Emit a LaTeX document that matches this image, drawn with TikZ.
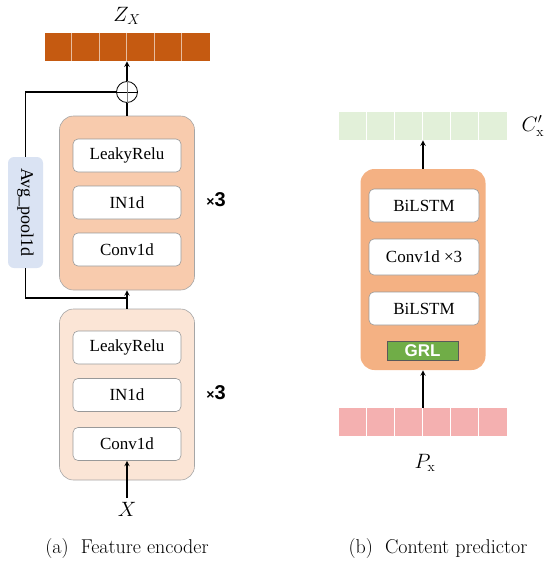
\documentclass[tikz,border=0pt]{standalone}
\usepackage{fontspec}
\newfontfamily\boxfont{Liberation Serif}
\newfontfamily\symfont{Liberation Sans}
\usetikzlibrary{positioning}
\definecolor{zxorange}{HTML}{C55A11}
\definecolor{encdark}{HTML}{F8CBAD}
\definecolor{enclight}{HTML}{FBE5D6}
\definecolor{predorange}{HTML}{F4B183}
\definecolor{poolblue}{HTML}{DAE3F3}
\definecolor{cxgreen}{HTML}{E2F0D9}
\definecolor{pxpink}{HTML}{F4B0B0}
\definecolor{grlgreen}{HTML}{70AD47}

\begin{document}
\begin{tikzpicture}[x=1pt,y=-1pt,thick,
    block/.style={draw=gray!70,line width=0.6pt,rounded corners=14pt,inner sep=0pt},
    layer node/.style={draw=gray!80,fill=white,line width=0.6pt,rounded corners=5pt,
        minimum width=108pt,minimum height=33pt,inner sep=0pt,
        font=\boxfont\fontsize{17}{19}\selectfont},
    bar/.style={minimum height=28pt,inner sep=0pt},
    times node/.style={font=\symfont\bfseries\fontsize{20}{20}\selectfont},
    math node/.style={font=\fontsize{20}{22}\selectfont},
    caption node/.style={font=\fontsize{20}{22}\selectfont},
    arrow/.style={->,line width=1.4pt,>=stealth}]

    \useasboundingbox (0,0) rectangle (550,562);

    % Feature encoder
    \node[bar,fill=zxorange,minimum width=165pt] (zx) at (127,47) {};
    \foreach \i in {1,...,5}
        \draw[white!60!zxorange,line width=0.8pt] ([xshift=\i*27.5pt]zx.north west) -- ([xshift=\i*27.5pt]zx.south west);
    \node[math node] (zxlab) at (127,16) {$Z_X$};
    \node[draw,circle,fill=white,line width=0.8pt,minimum size=21pt,inner sep=0pt] (plus) at (127,92) {};
    \draw[line width=0.8pt] (plus.west) -- (plus.east);
    \draw[line width=0.8pt,gray] (plus.north) -- (plus.south);

    \node[block,fill=encdark,minimum width=135pt,minimum height=174pt] (upblk) at (127,203) {};
    \node[layer node] (lrelu1) at (127,155.5) {LeakyRelu};
    \node[layer node] (in1) at (127,202.5) {IN1d};
    \node[layer node] (conv1) at (127,249.5) {Conv1d};
    \node[times node] (times1) at (216,200) {{\fontsize{14}{14}\selectfont×}3};

    \node[block,fill=enclight,minimum width=135pt,minimum height=171pt] (lowblk) at (127,394.5) {};
    \node[layer node] (lrelu2) at (127,347.5) {LeakyRelu};
    \node[layer node] (in2) at (127,395) {IN1d};
    \node[layer node] (conv2) at (127,444) {Conv1d};
    \node[times node] (times2) at (216,393) {{\fontsize{14}{14}\selectfont×}3};

    \node[draw=none,fill=poolblue,rounded corners=6pt,rotate=-90,minimum width=111pt,minimum height=35pt,
        inner sep=0pt,font=\boxfont\fontsize{18}{20}\selectfont] (avg) at (25.5,212.5) {Avg\_pool1d};
    \node[math node] (xlab) at (127,509) {$X$};
    \coordinate (jn) at (127,298);

    % Encoder connections
    \draw[arrow] (xlab) -- (conv2.south);
    \draw[line width=1.4pt] (lowblk.north) -- (jn);
    \draw[arrow] (jn) -- (upblk.south);
    \draw[line width=1.4pt] (avg) |- (jn);
    \draw[line width=1.4pt] (plus.west) -| (avg);
    \draw[line width=1.4pt] (upblk.north) -- (plus.south);
    \draw[arrow] (plus.north) -- (zx.south);

    % Content predictor
    \node[bar,fill=cxgreen,minimum width=168pt] (cx) at (423,126) {};
    \foreach \i in {1,...,5}
        \draw[white,line width=0.8pt] ([xshift=\i*28pt]cx.north west) -- ([xshift=\i*28pt]cx.south west);
    \node[math node,anchor=west] (cxlab) at (518,126) {$C'_{\mathrm{x}}$};

    \node[block,draw=none,fill=predorange,minimum width=125pt,minimum height=201pt] (predblk) at (423,269.5) {};
    \node[layer node,minimum width=110pt] (bilstm1) at (424,205.5) {BiLSTM};
    \node[layer node,minimum width=110pt,minimum height=36pt] (conv3) at (424,257) {Conv1d ×3};
    \node[layer node,minimum width=110pt] (bilstm2) at (424,308.5) {BiLSTM};
    \node[draw=gray!70!black,fill=grlgreen,line width=0.6pt,minimum width=71pt,minimum height=19pt,inner sep=0pt,
        text=white,font=\symfont\bfseries\fontsize{17}{17}\selectfont] (grl) at (422.5,350.5) {GRL};

    \node[bar,fill=pxpink,minimum width=168pt] (px) at (423,422) {};
    \foreach \i in {1,...,5}
        \draw[white,line width=0.8pt] ([xshift=\i*28pt]px.north west) -- ([xshift=\i*28pt]px.south west);
    \node[math node] (pxlab) at (425,463) {$P_{\mathrm{x}}$};

    % Predictor connections
    \draw[arrow] (px.north) -- (predblk.south);
    \draw[arrow] (predblk.north) -- (cx.south);

    % Captions
    \node[caption node] (capa) at (127,549) {(a)~~Feature encoder};
    \node[caption node] (capb) at (438,549) {(b)~~Content predictor};
\end{tikzpicture}
\end{document}
